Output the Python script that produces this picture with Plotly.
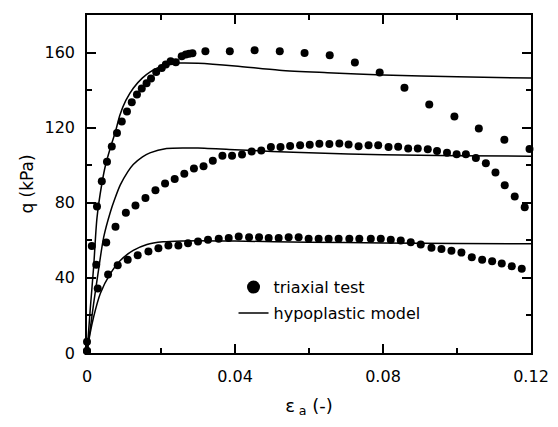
import plotly.graph_objects as go

# ---- data ----
# triaxial test points (eps_a, q in kPa)
test1_x = [0, 0.0013, 0.0027, 0.0040, 0.0054, 0.0067, 0.0081, 0.0094, 0.0108, 0.0121,
           0.0135, 0.0148, 0.0161, 0.0173, 0.0187, 0.0202, 0.0213, 0.0226, 0.0240, 0.0256,
           0.0267, 0.0276, 0.0285, 0.0320, 0.0386, 0.0453, 0.0521, 0.0588, 0.0656, 0.0724,
           0.0791, 0.0858, 0.0925, 0.0993, 0.1059, 0.1128, 0.1196]
test1_q = [6, 57, 78, 91.4, 101.8, 110, 117.1, 123.3, 128.6, 133.5,
           137.7, 140.9, 143.6, 146.2, 149.7, 151.8, 153.6, 155.4, 154.8, 158,
           158.9, 159.3, 159.6, 160.7, 160.7, 161.2, 160.7, 159.8, 158.6, 154.7,
           149.4, 141.3, 132.3, 126, 119.5, 113.6, 108.7]

test2_x = [0, 0.0025, 0.0052, 0.0077, 0.0105, 0.0131, 0.0158, 0.0185, 0.0211, 0.0237,
           0.0263, 0.0289, 0.0315, 0.0340, 0.0366, 0.0392, 0.0419, 0.0445, 0.0471, 0.0497,
           0.0523, 0.0549, 0.0576, 0.0602, 0.0628, 0.0655, 0.0682, 0.0707, 0.0734, 0.0761,
           0.0787, 0.0815, 0.0841, 0.0868, 0.0894, 0.0921, 0.0946, 0.0973, 0.0999, 0.1024,
           0.1051, 0.1078, 0.1104, 0.1129, 0.1156, 0.1183]
test2_q = [1, 47, 58.8, 67.3, 74.7, 78.6, 82.5, 86.7, 90.3, 92.6,
           95.5, 98.3, 99.5, 102.4, 105, 105, 105.7, 107.3, 107.9, 109.7,
           109.7, 110.2, 110.6, 110.9, 111.5, 111.3, 111.6, 111.1, 110.1, 110.6,
           110.7, 109.7, 109.9, 108.9, 108.9, 108.5, 107.6, 106.6, 105.9, 105.9,
           103.8, 101.1, 96.1, 89.3, 83.3, 77.6]

test3_x = [0, 0.0029, 0.0057, 0.0083, 0.0110, 0.0137, 0.0166, 0.0193, 0.0220, 0.0247,
           0.0273, 0.0300, 0.0327, 0.0356, 0.0383, 0.0410, 0.0438, 0.0465, 0.0491, 0.0518,
           0.0545, 0.0572, 0.0599, 0.0626, 0.0653, 0.0680, 0.0709, 0.0736, 0.0767, 0.0794,
           0.0821, 0.0848, 0.0875, 0.0902, 0.0931, 0.0958, 0.0985, 0.1012, 0.1040, 0.1068,
           0.1095, 0.1121, 0.1148, 0.1175]
test3_q = [1, 34.4, 41.8, 46.7, 49.7, 52, 54.1, 55.8, 57.2, 57.2,
           58.5, 59.4, 60.3, 60.8, 61.3, 62, 61.6, 61.6, 61.3, 61.3,
           61.6, 61.6, 60.9, 60.9, 60.9, 60.9, 60.8, 60.8, 60.8, 60.8,
           60.3, 59.9, 59, 57.8, 56.1, 55.4, 54.4, 53.5, 51, 49.7,
           48.8, 47.7, 46.2, 44.9]

# hypoplastic model curves
model1_x = [0, 0.0009, 0.0018, 0.0027, 0.0040, 0.0050, 0.0063, 0.0077, 0.0089, 0.0105,
            0.0125, 0.0150, 0.0171, 0.0195, 0.0215, 0.0250, 0.0300, 0.0400, 0.0520,
            0.0650, 0.0800, 0.1000, 0.1200]
model1_q = [0, 24, 46, 72, 90, 100, 109.2, 118, 126.8, 134.5,
            141, 146.5, 149.7, 152.2, 153.3, 154.4, 154.3, 152.9, 150.6,
            149.3, 148.1, 147.1, 146.4]

model2_x = [0, 0.0018, 0.0031, 0.0045, 0.0063, 0.0075, 0.0090, 0.0110, 0.0125, 0.0150,
            0.0170, 0.0215, 0.0270, 0.0300, 0.0400, 0.0500, 0.0600, 0.0800, 0.1000, 0.1200]
model2_q = [0, 26.4, 44, 61.6, 75, 82, 89.5, 96.5, 100.4, 104.5,
            106.6, 108.9, 109.2, 109.2, 108.3, 107.3, 106.6, 105.6, 105.1, 104.8]

model3_x = [0, 0.0008, 0.0018, 0.0036, 0.0063, 0.0090, 0.0125, 0.0162, 0.0206, 0.0260,
            0.0300, 0.0400, 0.0600, 0.0800, 0.1000, 0.1200]
model3_q = [0, 10, 19.3, 31.7, 42.3, 49.3, 54.6, 57.8, 59.2, 59.7,
            59.8, 59.6, 59.0, 58.6, 58.3, 58.2]

x_ticks = [0, 0.04, 0.08, 0.12]
x_tick_labels = ["0", "0.04", "0.08", "0.12"]
x_minor = [0.02, 0.06, 0.10]
y_ticks = [0, 40, 80, 120, 160]
y_tick_labels = ["0", "40", "80", "120", "160"]
y_minor = [20, 60, 100, 140, 180]

FONT = "DejaVu Sans"

fig = go.Figure()

tests = [(test1_x, test1_q), (test2_x, test2_q), (test3_x, test3_q)]
models = [(model1_x, model1_q), (model2_x, model2_q), (model3_x, model3_q)]

for i, (mx, mq) in enumerate(models):
    fig.add_trace(go.Scatter(
        x=mx, y=mq, mode="lines",
        line=dict(color="black", width=1.5, shape="spline", smoothing=0.8),
        name="hypoplastic model", legendgroup="model", legendrank=2,
        showlegend=(i == 0), cliponaxis=False))

for i, (tx, tq) in enumerate(tests):
    fig.add_trace(go.Scatter(
        x=tx, y=tq, mode="markers",
        marker=dict(color="black", size=8, symbol="circle"),
        name="triaxial test", legendgroup="test",
        showlegend=False, cliponaxis=False))

# legend-only entry with the larger legend dot
fig.add_trace(go.Scatter(
    x=[None], y=[None], mode="markers",
    marker=dict(color="black", size=13, symbol="circle"),
    name="triaxial test", legendgroup="test", legendrank=1, showlegend=True))

axis_common = dict(
    showline=True, linecolor="black", linewidth=1.5, mirror="allticks",
    ticks="inside", ticklen=9, tickwidth=1.5, tickcolor="black",
    showgrid=False, zeroline=False,
    tickfont=dict(family=FONT, size=16, color="black"),
)

fig.update_xaxes(
    range=[0, 0.12], tickvals=x_ticks, ticktext=x_tick_labels,
    minor=dict(tickvals=x_minor, ticks="inside", ticklen=5, tickwidth=1.5,
               tickcolor="black", showgrid=False),
    title=dict(text="ε<sub> a</sub> (-)", font=dict(family=FONT, size=18, color="black"),
               standoff=14),
    ticklabelstandoff=8,
    **axis_common)

fig.update_yaxes(
    range=[0, 180], tickvals=y_ticks, ticktext=y_tick_labels,
    minor=dict(tickvals=y_minor, ticks="inside", ticklen=5, tickwidth=1.5,
               tickcolor="black", showgrid=False),
    title=dict(text="q (kPa)", font=dict(family=FONT, size=17, color="black"),
               standoff=7),
    ticklabelstandoff=7,
    **axis_common)

fig.update_layout(
    width=550, height=419,
    margin=dict(l=79, r=27, t=5, b=74),
    paper_bgcolor="white", plot_bgcolor="white",
    font=dict(family=FONT, size=16, color="black"),
    legend=dict(x=0.33, y=0.245, xanchor="left", yanchor="top",
                bgcolor="rgba(0,0,0,0)", borderwidth=0,
                font=dict(family=FONT, size=16, color="black"),
                traceorder="grouped", tracegroupgap=2),
)

fig.write_html("out.html")
